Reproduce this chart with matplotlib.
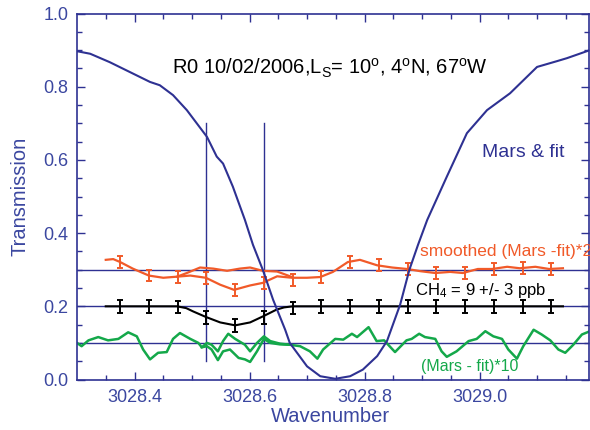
import matplotlib
matplotlib.use("Agg")
import matplotlib.pyplot as plt

plt.rcParams["font.family"] = ["Liberation Sans", "DejaVu Sans"]
plt.rcParams["mathtext.fontset"] = "custom"
plt.rcParams["mathtext.rm"] = "Liberation Sans"
plt.rcParams["mathtext.it"] = "Liberation Sans:italic"
plt.rcParams["mathtext.default"] = "regular"

# Mars spectrum & fit (transmission)
mars_wn = [3028.300, 3028.323, 3028.357, 3028.392, 3028.427, 3028.444, 3028.467,
           3028.491, 3028.526, 3028.543, 3028.554, 3028.571, 3028.592, 3028.606,
           3028.623, 3028.641, 3028.662, 3028.670, 3028.700, 3028.723, 3028.749,
           3028.775, 3028.797, 3028.822, 3028.839, 3028.862, 3028.878, 3028.893,
           3028.909, 3028.943, 3028.978, 3029.013, 3029.053, 3029.100, 3029.135,
           3029.152, 3029.192]
mars_t = [0.897, 0.890, 0.867, 0.840, 0.813, 0.804, 0.777,
          0.736, 0.663, 0.609, 0.590, 0.527, 0.436, 0.368,
          0.300, 0.218, 0.136, 0.100, 0.036, 0.009, 0.002,
          0.009, 0.027, 0.064, 0.105, 0.205, 0.300, 0.368,
          0.436, 0.554, 0.673, 0.736, 0.782, 0.854, 0.870,
          0.878, 0.900]

# smoothed (Mars - fit)*20, offset to 0.3
orange_wn = [3028.350, 3028.363, 3028.375, 3028.397, 3028.425, 3028.450, 3028.474,
             3028.497, 3028.524, 3028.549, 3028.573, 3028.601, 3028.623, 3028.648,
             3028.674, 3028.700, 3028.723, 3028.745, 3028.771, 3028.792, 3028.822,
             3028.848, 3028.874, 3028.897, 3028.923, 3028.949, 3028.971, 3028.997,
             3029.022, 3029.048, 3029.070, 3029.097, 3029.121, 3029.145]
orange_t = [0.327, 0.329, 0.321, 0.303, 0.284, 0.278, 0.281,
            0.284, 0.278, 0.259, 0.245, 0.257, 0.264, 0.282,
            0.278, 0.278, 0.280, 0.294, 0.321, 0.327, 0.312,
            0.306, 0.302, 0.296, 0.291, 0.294, 0.291, 0.302,
            0.302, 0.308, 0.304, 0.308, 0.302, 0.304]
orange2_wn = [3028.474, 3028.491, 3028.514, 3028.537, 3028.561, 3028.583,
              3028.601, 3028.623, 3028.648, 3028.674]
orange2_t = [0.281, 0.291, 0.306, 0.303, 0.297, 0.303,
             0.306, 0.297, 0.295, 0.280]

# binned points with error bars
bin_wn = [3028.375, 3028.425, 3028.475, 3028.525, 3028.575, 3028.625, 3028.675,
          3028.725, 3028.775, 3028.825, 3028.875, 3028.925, 3028.975, 3029.025,
          3029.075, 3029.125]
bin_orange = [0.321, 0.284, 0.281, 0.278, 0.245, 0.264, 0.272, 0.280,
              0.321, 0.312, 0.302, 0.291, 0.291, 0.302, 0.304, 0.302]
bin_black = [0.199, 0.199, 0.198, 0.170, 0.147, 0.170, 0.196, 0.200,
             0.200, 0.200, 0.200, 0.200, 0.200, 0.200, 0.200, 0.200]
err_orange = 0.016
err_black = 0.017

# CH4 model line, offset to 0.2
ch4_wn = [3028.350, 3028.474, 3028.490, 3028.502, 3028.524, 3028.549, 3028.575,
          3028.601, 3028.624, 3028.647, 3028.660, 3028.675, 3029.145]
ch4_t = [0.200, 0.200, 0.195, 0.186, 0.171, 0.156, 0.148,
         0.156, 0.173, 0.191, 0.197, 0.200, 0.200]

# (Mars - fit)*10, offset to 0.1
green_wn = [3028.300, 3028.308, 3028.320, 3028.337, 3028.354, 3028.372, 3028.389,
            3028.404, 3028.415, 3028.427, 3028.441, 3028.456, 3028.467, 3028.479,
            3028.497, 3028.511, 3028.517, 3028.526, 3028.534, 3028.545, 3028.554,
            3028.563, 3028.575, 3028.592, 3028.601, 3028.613, 3028.625, 3028.636,
            3028.653, 3028.670, 3028.688, 3028.705, 3028.718, 3028.728, 3028.749,
            3028.763, 3028.778, 3028.787, 3028.807, 3028.821, 3028.834, 3028.853,
            3028.873, 3028.882, 3028.895, 3028.905, 3028.923, 3028.934, 3028.943,
            3028.960, 3028.981, 3028.995, 3029.010, 3029.024, 3029.039, 3029.050,
            3029.065, 3029.076, 3029.094, 3029.108, 3029.123, 3029.137, 3029.149,
            3029.163, 3029.178, 3029.192]
green_t = [0.100, 0.091, 0.107, 0.116, 0.107, 0.111, 0.129,
           0.118, 0.082, 0.055, 0.073, 0.075, 0.111, 0.127,
           0.111, 0.100, 0.088, 0.100, 0.095, 0.077, 0.105,
           0.125, 0.111, 0.095, 0.077, 0.100, 0.118, 0.105,
           0.098, 0.095, 0.091, 0.077, 0.057, 0.082, 0.111,
           0.109, 0.125, 0.116, 0.143, 0.105, 0.107, 0.075,
           0.107, 0.111, 0.125, 0.116, 0.111, 0.077, 0.062,
           0.077, 0.105, 0.111, 0.132, 0.118, 0.111, 0.082,
           0.057, 0.091, 0.136, 0.123, 0.107, 0.082, 0.073,
           0.095, 0.123, 0.132]
green2_wn = [3028.517, 3028.526, 3028.534, 3028.545, 3028.554, 3028.566, 3028.581,
             3028.592, 3028.601, 3028.613, 3028.625, 3028.636, 3028.653, 3028.670]
green2_t = [0.088, 0.091, 0.082, 0.053, 0.077, 0.082, 0.059,
            0.055, 0.048, 0.077, 0.111, 0.100, 0.096, 0.095]

ref_levels = [0.1, 0.2, 0.3]
window_wn = [3028.525, 3028.625]

BLUE = "#2e3192"
LBLUE = "#3b47a0"
ORANGE = "#f15a29"
GREEN = "#14a84a"

fig = plt.figure(figsize=(5.9, 4.3), dpi=100)
ax = fig.add_axes([0.1305, 0.1174, 0.8675, 0.8512])

for lev in ref_levels:
    ax.axhline(lev, color=BLUE, lw=1.0, zorder=1)
for w in window_wn:
    ax.plot([w, w], [0.05, 0.70], color=BLUE, lw=1.0, zorder=1)

ax.plot(green_wn, green_t, color=GREEN, lw=1.8, zorder=2)
ax.plot(green2_wn, green2_t, color=GREEN, lw=1.8, zorder=2)

ax.plot(orange_wn, orange_t, color=ORANGE, lw=1.6, zorder=3)
ax.plot(orange2_wn, orange2_t, color=ORANGE, lw=1.6, zorder=3)
ax.errorbar(bin_wn, bin_orange, yerr=err_orange, fmt="none", ecolor=ORANGE,
            elinewidth=1.4, capsize=2.5, capthick=1.4, zorder=3)

ax.plot(ch4_wn, ch4_t, color="black", lw=1.5, zorder=3)
ax.errorbar(bin_wn, bin_black, yerr=err_black, fmt="none", ecolor="black",
            elinewidth=1.4, capsize=2.5, capthick=1.4, zorder=3)

ax.plot(mars_wn, mars_t, color=BLUE, lw=1.5, zorder=4)

ax.set_xlim(3028.30, 3029.19)
ax.set_ylim(0.0, 1.0)
ax.set_xticks([3028.4, 3028.6, 3028.8, 3029.0])
ax.set_xticklabels(["3028.4", "3028.6", "3028.8", "3029.0"])
ax.set_xticks([3028.35 + 0.05 * i for i in range(17)], minor=True)
ax.set_yticks([0.0, 0.2, 0.4, 0.6, 0.8, 1.0])
ax.set_yticks([0.05 * i for i in range(21)], minor=True)

for s in ax.spines.values():
    s.set_color(BLUE)
    s.set_linewidth(1.2)
ax.tick_params(which="both", direction="in", top=True, right=True, color=BLUE,
               labelcolor=LBLUE, labelsize=13, width=1.0)
ax.tick_params(which="major", length=6)
ax.tick_params(which="minor", length=3.5)
ax.tick_params(axis="y", pad=6)
ax.tick_params(axis="x", pad=7)

ax.set_xlabel("Wavenumber", color=LBLUE, fontsize=14.5)
ax.set_ylabel("Transmission", color=LBLUE, fontsize=14.5)
ax.xaxis.set_label_coords(0.496, -0.074)
ax.yaxis.set_label_coords(-0.092, 0.5)

ax.text(3028.74, 0.851, r"R0 10/02/2006,L$_{S}$= 10$^{o}$, 4$^{o}$N, 67$^{o}$W",
        color="black", fontsize=14.5, ha="center", va="center")
ax.text(3029.076, 0.619, "Mars & fit", color=BLUE, fontsize=14,
        ha="center", va="center")
# runs past the right edge, as in the original figure
ax.text(3028.897, 0.349, "smoothed (Mars -fit)*20", color=ORANGE, fontsize=12.5,
        ha="left", va="center", clip_on=False)
ax.text(3028.888, 0.243, r"CH$_{4}$ = 9 +/- 3 ppb", color="black", fontsize=12,
        ha="left", va="center")
ax.text(3028.898, 0.035, "(Mars - fit)*10", color=GREEN, fontsize=11.5,
        ha="left", va="center")

fig.savefig("out.png", dpi=100)
